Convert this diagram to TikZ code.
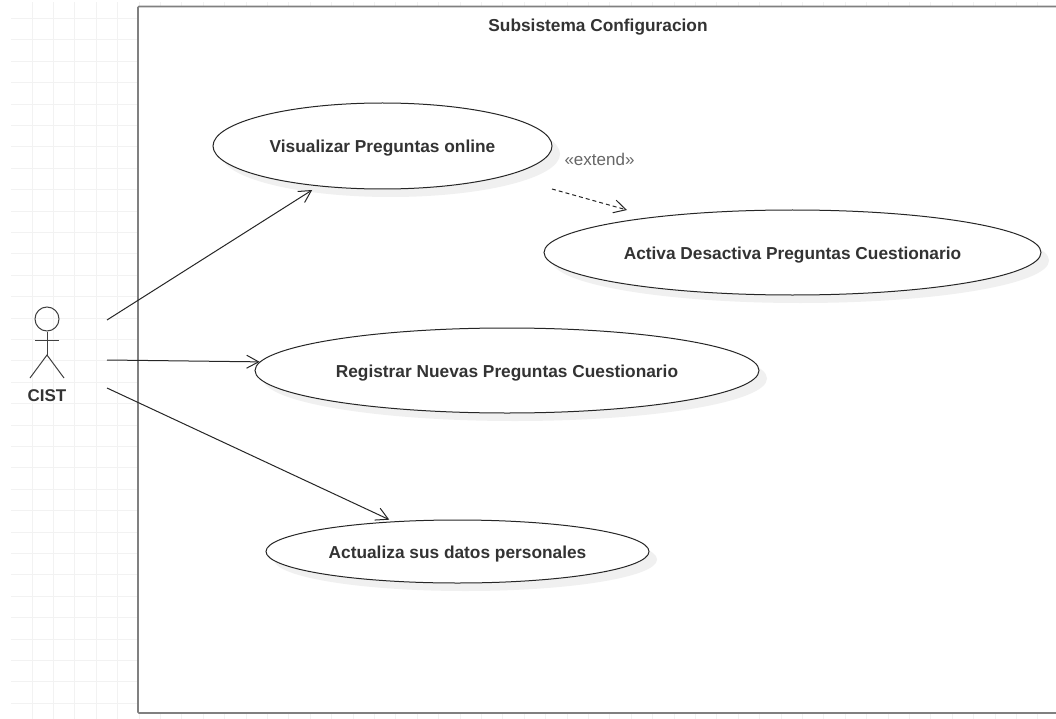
\documentclass[tikz,border=0pt]{standalone}
\usepackage{fontspec}
\setmainfont{Liberation Sans}
\usepackage{xcolor}
\usetikzlibrary{shapes.geometric, arrows.meta, shadows}
\definecolor{gridgray}{HTML}{F2F2F2}
\definecolor{framegray}{HTML}{808080}
\definecolor{textgray}{HTML}{333333}
\tikzstyle{usecase} = [ellipse, draw=black!85, line width=1pt, fill=white, inner sep=0pt, text height=18pt, text depth=4pt, font=\fontsize{17.3}{20}\selectfont\bfseries, text=textgray, drop shadow={shadow xshift=8pt, shadow yshift=-8pt, fill=black!6, opacity=1}]
\tikzstyle{arrow} = [-{Straight Barb[length=12pt, width=13pt]}, line width=1pt, draw=black!85]
\tikzstyle{actorline} = [line width=1pt, draw=black!75]
\tikzstyle{gridline} = [line width=1pt, draw=gridgray]

\begin{document}
\begin{tikzpicture}[x=1pt, y=-1pt]
                \useasboundingbox (0,0) rectangle (1056,719);
                % grid behind the frame
                \foreach \gx in {0,...,48} {
                    \draw[gridline] (32+21.4*\gx,2) -- (32+21.4*\gx,719);
                }
                \foreach \gy in {0,...,32} {
                    \draw[gridline] (11,18.5+21.4*\gy) -- (1056,18.5+21.4*\gy);
                }
                % system frame
                \draw[line width=1.6pt, draw=framegray, fill=white, rounded corners=1pt] (138,6.5) rectangle (1070,713);
                \node (title) at (598,27) [font=\fontsize{17.3}{20}\selectfont\bfseries, text=textgray] {Subsistema Configuracion};
                % actor
                \node (head) at (47,319) [circle, actorline, inner sep=0pt, minimum size=24pt] {};
                \coordinate (hip) at (47,355);
                \coordinate (armleft) at (35,340);
                \coordinate (armright) at (59,340);
                \coordinate (footleft) at (30,378);
                \coordinate (footright) at (64,378);
                \draw[actorline] (head.south) -- (hip);
                \draw[actorline] (armleft) -- (armright);
                \draw[actorline] (footleft) -- (hip) -- (footright);
                \node (cist) at (47,396) [font=\fontsize{17}{20}\selectfont\bfseries, text=textgray] {CIST};
                % use cases
                \node (visualizar) at (382.5,146) [usecase, minimum width=339pt, minimum height=86pt] {Visualizar Preguntas online};
                \node (activa) at (792.5,252.5) [usecase, minimum width=497pt, minimum height=85pt] {Activa Desactiva Preguntas Cuestionario};
                \node (registrar) at (507,370.5) [usecase, minimum width=504pt, minimum height=85pt] {Registrar Nuevas Preguntas Cuestionario};
                \node (actualiza) at (457.5,551.5) [usecase, minimum width=383pt, minimum height=63pt] {Actualiza sus datos personales};
                % connectors
                \coordinate (actortop) at (107,320);
                \coordinate (actormid) at (107,360);
                \coordinate (actorlow) at (107,388);
                \coordinate (extendstart) at (552,189);
                \coordinate (extendend) at (627,210);
                \draw[arrow, shorten >=7pt] (actortop) -- (visualizar.212);
                \draw[arrow] (actormid) -- (registrar.178.8);
                \draw[arrow, shorten >=4pt] (actorlow) -- (actualiza.155);
                \draw[arrow, dash pattern=on 4pt off 3pt] (extendstart) -- (extendend);
                \node (extendlabel) at (599.5,159) [font=\fontsize{17}{20}\selectfont, text=black!60] {«extend»};
            \end{tikzpicture}
\end{document}
